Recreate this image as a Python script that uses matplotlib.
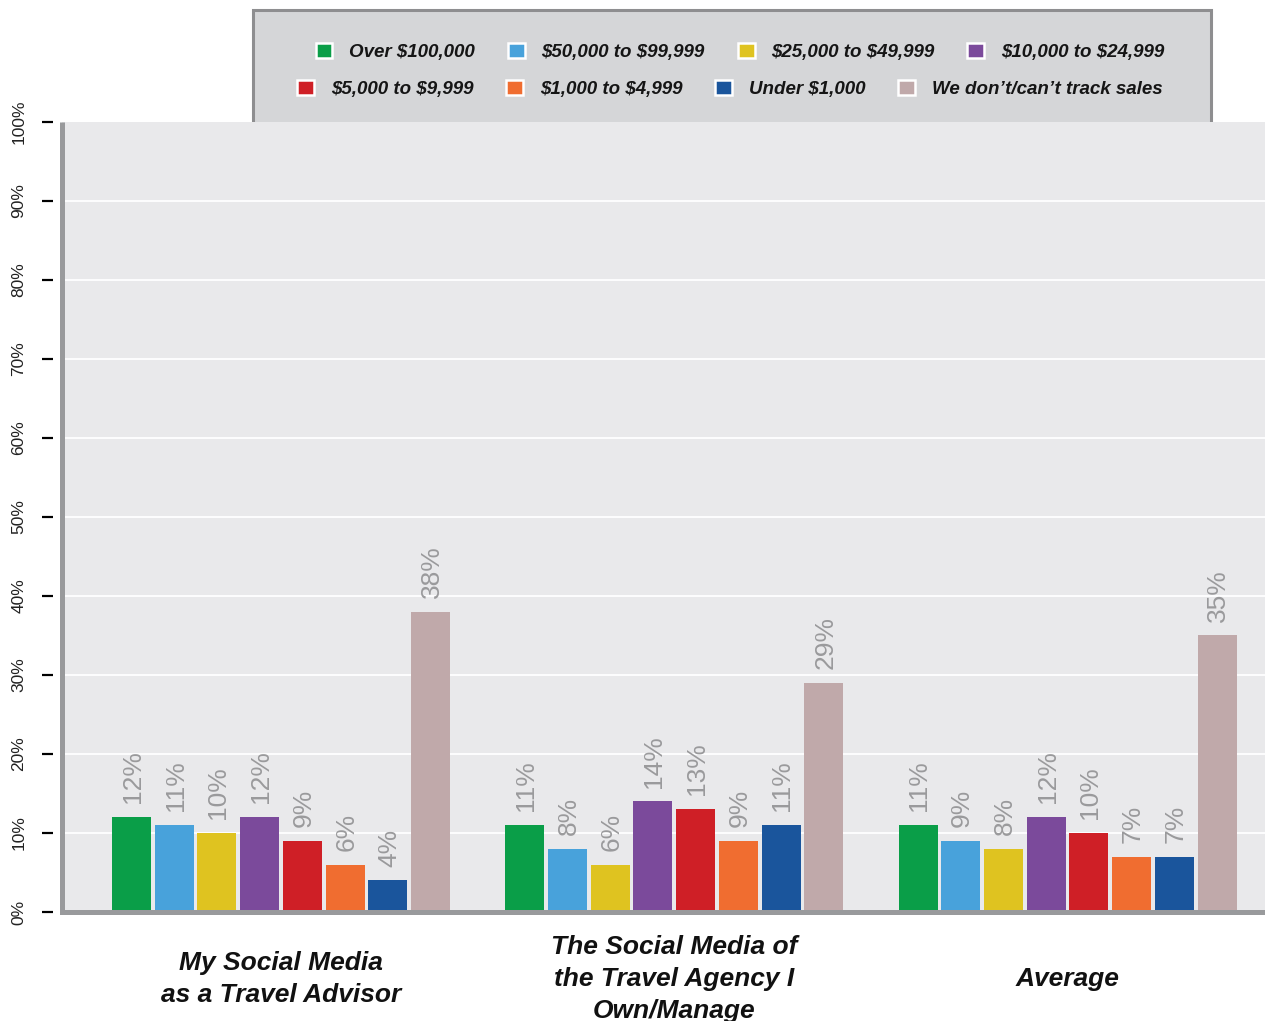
import matplotlib
matplotlib.use("Agg")
import matplotlib.pyplot as plt
from matplotlib.patches import Patch, Rectangle
import numpy as np

plt.rcParams['font.family'] = ['Liberation Sans', 'DejaVu Sans']
plt.rcParams['text.parse_math'] = False

categories = ["My Social Media\nas a Travel Advisor",
              "The Social Media of\nthe Travel Agency I\nOwn/Manage",
              "Average"]
series_names = ["Over $100,000", "$50,000 to $99,999", "$25,000 to $49,999",
                "$10,000 to $24,999", "$5,000 to $9,999", "$1,000 to $4,999",
                "Under $1,000", "We don\u2019t/can\u2019t track sales"]
series_colors = ["#0A9E48", "#48A2DB", "#DFC320", "#7B4A9B",
                 "#CF1F26", "#F06D30", "#1A559C", "#C0A9AA"]
# percentages per series, one value per category
over_100k = [12, 11, 11]
k50_99 = [11, 8, 9]
k25_49 = [10, 6, 8]
k10_24 = [12, 14, 12]
k5_9 = [9, 13, 10]
k1_4 = [6, 9, 7]
under_1k = [4, 11, 7]
no_track = [38, 29, 35]
series_values = [over_100k, k50_99, k25_49, k10_24, k5_9, k1_4, under_1k, no_track]
y_ticks = list(range(0, 101, 10))
y_tick_labels = [f"{t}%" for t in y_ticks]

W, H = 1265, 1021
PX = 72 / 100  # points per pixel at dpi 100
fig = plt.figure(figsize=(W / 100, H / 100), dpi=100)
fig.patch.set_facecolor("white")

ax_left, ax_right, ax_top, ax_bottom = 62, 1265, 122, 912
ax = fig.add_axes([ax_left / W, 1 - ax_bottom / H,
                   (ax_right - ax_left) / W, (ax_bottom - ax_top) / H])
ax.set_facecolor("#E9E9EB")

# detach the y ticks from the plot edge (must precede tick label styling)
ax.spines["left"].set_position(("outward", 9 * PX))
for s in ["left", "top", "right", "bottom"]:
    ax.spines[s].set_visible(False)

x = np.arange(len(categories))
step = 0.1086
width = 0.0992
for i, (vals, col) in enumerate(zip(series_values, series_colors)):
    xs = x + (i - 3.5) * step
    bars = ax.bar(xs, vals, width=width, color=col, zorder=3)
    for b, v in zip(bars, vals):
        ax.annotate(f"{v}%", (b.get_x() + b.get_width() / 2, v),
                    xytext=(1, 10), textcoords="offset points",
                    rotation=90, ha="center", va="bottom",
                    fontsize=19, color="#9A9A9C", zorder=4)

ax.set_xlim(-0.557, 2.502)
ax.set_ylim(0, 100)

# white horizontal gridlines
for t in y_ticks[1:-1]:
    ax.axhline(t, color="white", lw=1.3, zorder=1)

ax.set_yticks(y_ticks)
ax.set_yticklabels(y_tick_labels, rotation=90, va="center", ha="center",
                   fontsize=12.5, color="#222222")
ax.tick_params(axis="y", length=11 * PX, width=2.2 * PX, color="black",
               pad=23 * PX)

# thick gray axis lines
ax.plot([0, 0], [0, 1], transform=ax.transAxes, color="#999A9C", lw=5 * PX,
        clip_on=False, zorder=5, solid_capstyle="butt")
ax.plot([0, 1], [0, 0], transform=ax.transAxes, color="#999A9C", lw=5 * PX,
        clip_on=False, zorder=5, solid_capstyle="projecting")

ax.set_xticks(x)
ax.set_xticklabels(categories, fontsize=19, fontweight="bold", style="italic",
                   color="#111111")
ax.tick_params(axis="x", length=0, pad=48.5)
for lbl in ax.get_xticklabels():
    lbl.set_va("center")
    lbl.set_linespacing(1.42)

# legend panel
fig.patches.append(Rectangle((253 / W, 1 - 126 / H), (1211 - 253) / W, (126 - 10) / H,
                             transform=fig.transFigure, facecolor="#D5D6D8",
                             edgecolor="#8E8E90", lw=2.2, zorder=-1))

handles = [Patch(facecolor=c, edgecolor="white", lw=1.8) for c in series_colors]
leg_font = dict(size=13.5, weight="bold", style="italic")
leg1 = fig.legend(handles[:4], series_names[:4], loc="center",
                  bbox_to_anchor=(740 / W, 1 - 52 / H), ncol=4, frameon=False,
                  prop=leg_font, handlelength=0.9, handleheight=0.9,
                  handletextpad=0.9, columnspacing=1.75)
leg2 = fig.legend(handles[4:], series_names[4:], loc="center",
                  bbox_to_anchor=(730 / W, 1 - 89 / H), ncol=4, frameon=False,
                  prop=leg_font, handlelength=0.9, handleheight=0.9,
                  handletextpad=0.9, columnspacing=1.75)
for lg in (leg1, leg2):
    for t in lg.get_texts():
        t.set_color("#151515")

fig.savefig("out.png", dpi=100)
